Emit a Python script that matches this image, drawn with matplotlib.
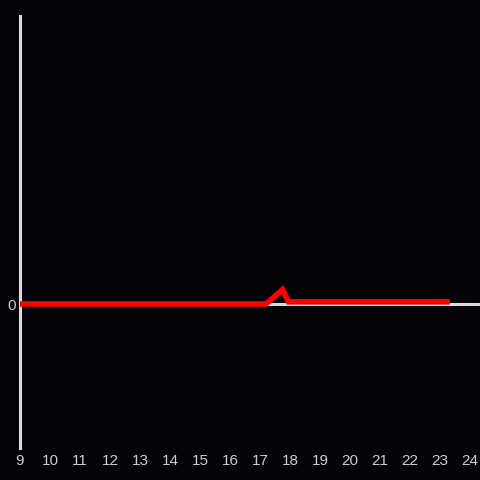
import matplotlib.pyplot as plt
import matplotlib.transforms as mtransforms

# data
hours = [9, 17.2, 17.75, 17.95, 23.33]
values = [0, 0, 0.1, 0.015, 0.015]
xticks = list(range(9, 25))

bg = '#050308'
axis_col = '#dcdcdc'
label_col = '#cccccc'

plt.rcParams['font.family'] = ['Liberation Sans', 'DejaVu Sans']

fig = plt.figure(figsize=(4.8, 4.8), dpi=100, facecolor=bg)
ax = fig.add_axes([20 / 480, 32 / 480, 460 / 480, 432 / 480], facecolor=bg)

ax.plot(hours, values, color='#ff0000', linewidth=4, solid_capstyle='butt',
        solid_joinstyle='miter', zorder=3, clip_on=False)

ax.set_xlim(9, 24 + 10 / 30)
ax.set_ylim(-1, 2)
ax.set_xticks(xticks)
ax.set_xticklabels([])
ax.set_yticks([0])

ax.spines['top'].set_visible(False)
ax.spines['right'].set_visible(False)
ax.spines['bottom'].set_position(('data', 0))
for s in ('left', 'bottom'):
    ax.spines[s].set_color(axis_col)
    ax.spines[s].set_linewidth(2.2)

ax.tick_params(axis='x', length=0)
ax.tick_params(axis='y', length=0, colors=label_col, labelsize=11, pad=3)

# x labels sit at the bottom of the figure, not on the zero line
trans = mtransforms.blended_transform_factory(ax.transData, fig.transFigure)
for t in xticks:
    ax.text(t, 19 / 480, str(t), transform=trans, color=label_col,
            fontsize=11, ha='center', va='center', clip_on=False)

fig.savefig('out.png', dpi=100, facecolor=bg)
